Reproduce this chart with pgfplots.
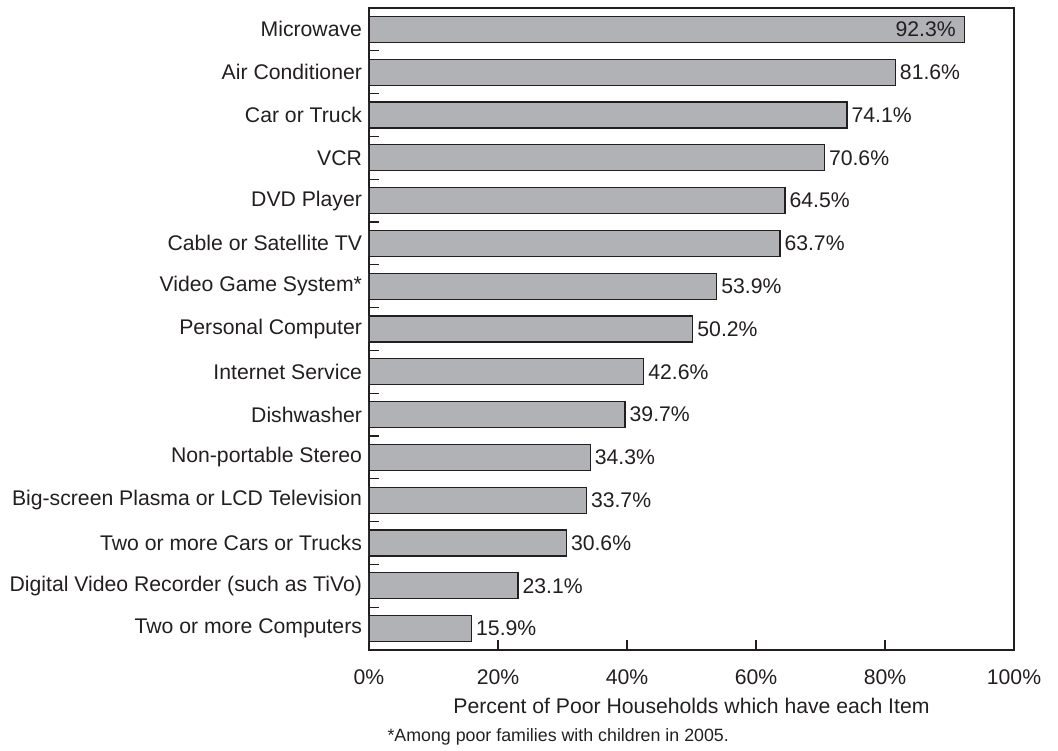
\documentclass[border=0pt]{standalone}
\usepackage{pgfplots}
\pgfplotsset{compat=1.18}
\usepackage{fontspec}
\setmainfont{Liberation Sans}
\definecolor{barfill}{RGB}{177,178,181}
\definecolor{ink}{RGB}{35,31,32}
\begin{document}
\begin{tikzpicture}[font=\fontsize{21.2}{25}\selectfont, text=ink]
\useasboundingbox (-369pt,-101pt) rectangle (689pt,650pt);
\begin{axis}[
  at={(0,0)}, anchor=south west,
  scale only axis, width=645pt, height=642pt,
  xbar, bar shift=0pt, bar width=26pt,
  xmin=0, xmax=100, ymin=-0.5, ymax=14.5, y dir=reverse,
  /pgf/number format/assume math mode=true,
  xtick={0,20,...,100},
  xticklabel={\pgfmathprintnumber{\tick}\%},
  ytick={0,...,14},
  yticklabels={Microwave, Air Conditioner, Car or Truck, VCR, DVD Player,
    Cable or Satellite TV, Video Game System*, Personal Computer,
    Internet Service, Dishwasher, Non-portable Stereo,
    Big-screen Plasma or LCD Television, Two or more Cars or Trucks,
    Digital Video Recorder (such as TiVo), Two or more Computers},
  minor ytick={-0.5,0.5,...,14.5},
  tick align=inside, tick pos=left,
  major tick length=10pt, minor tick length=10pt,
  every major y tick/.append style={draw=none},
  every tick/.append style={ink, line width=1.3pt},
  axis line style={ink, line width=1.5pt},
  xticklabel style={yshift=-16pt},
  yticklabel style={xshift=-3.5pt},
  xlabel={Percent of Poor Households which have each Item},
  xlabel style={at={(axis description cs:0.5,0)}, anchor=center, yshift=-56pt},
  point meta=x,
  nodes near coords={\pgfmathprintnumber[fixed,fixed zerofill,precision=1]{\pgfplotspointmeta}\%},
]
% every item except the first, value printed beyond the bar end
\addplot[fill=barfill, draw=ink, line width=1.3pt,
  nodes near coords style={anchor=west, inner xsep=4pt, text=ink}]
  coordinates {
    (81.6,1) (74.1,2) (70.6,3) (64.5,4) (63.7,5) (53.9,6) (50.2,7)
    (42.6,8) (39.7,9) (34.3,10) (33.7,11) (30.6,12) (23.1,13) (15.9,14)
  };
% the longest bar carries its value inside
\addplot[fill=barfill, draw=ink, line width=1.3pt,
  nodes near coords style={anchor=east, inner xsep=8pt, text=ink}]
  coordinates {(92.3,0)};
\end{axis}
\node[anchor=base west, font=\fontsize{17.8}{21}\selectfont] at (15pt,-92pt)
  {*Among poor families with children in 2005.};
\end{tikzpicture}
\end{document}
